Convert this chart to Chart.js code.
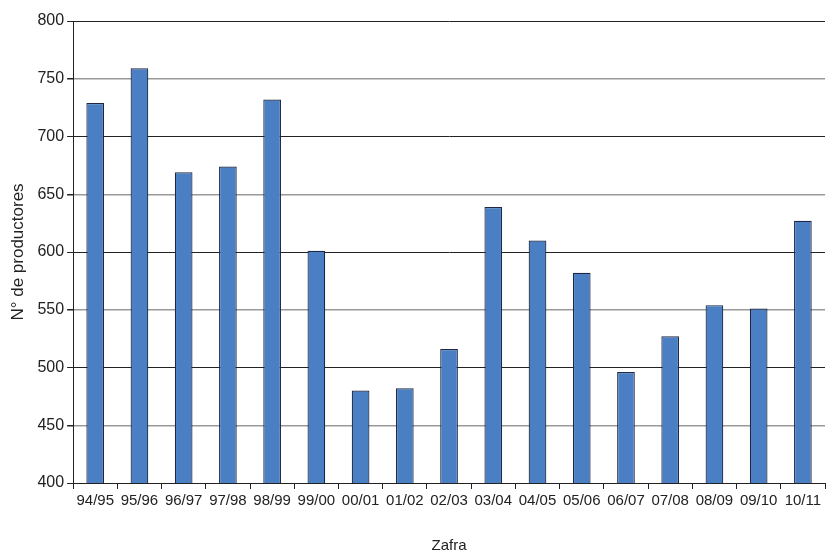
<!DOCTYPE html>
<html>
<head>
<meta charset="utf-8">
<script src="https://cdn.jsdelivr.net/npm/chart.js@4"></script>
<style>
html,body{margin:0;padding:0;background:#fff;}
#wrap{width:829px;height:555px;}
</style>
</head>
<body>
<div id="wrap"><canvas id="c" width="829" height="555"></canvas></div>
<script>
const categories = ["94/95","95/96","96/97","97/98","98/99","99/00","00/01","01/02","02/03","03/04","04/05","05/06","06/07","07/08","08/09","09/10","10/11"];
const productores = [729,759,669,674,732,601,480,482,516,639,610,582,496,527,554,551,627];
const yTicks = [400,450,500,550,600,650,700,750,800];
const yTitle = "N° de productores";
const xTitle = "Zafra";

const barGradient = (ctx) => {
  const el = ctx.element;
  const chart = ctx.chart;
  if (!el || !chart.chartArea || el.x === undefined || isNaN(el.x)) return '#4A7FC4';
  const w = el.width || 18;
  const g = chart.ctx.createLinearGradient(el.x - w/2, 0, el.x + w/2, 0);
  g.addColorStop(0, '#34508C');
  g.addColorStop(0.3, '#4A80C6');
  g.addColorStop(1, '#4E86C9');
  return g;
};

new Chart(document.getElementById('c'), {
  type: 'bar',
  data: {
    labels: categories,
    datasets: [{
      data: productores,
      backgroundColor: barGradient,
      borderColor: '#1E2744',
      borderWidth: 1.2,
      borderSkipped: 'bottom',
      barPercentage: 0.8,
      categoryPercentage: 0.5
    }]
  },
  options: {
    responsive: false,
    animation: false,
    devicePixelRatio: 1,
    layout: { padding: { left: 8, right: 4, top: 21, bottom: 0 } },
    plugins: { legend: { display: false }, tooltip: { enabled: false } },
    scales: {
      x: {
        grid: { drawOnChartArea: false, drawTicks: true, tickLength: 6, color: '#222', offset: true },
        border: { color: '#222', width: 1 },
        ticks: { color: '#222', font: { family: 'Liberation Sans, Arial', size: 15 }, padding: 3, maxRotation: 0, autoSkip: false },
        title: { display: true, text: xTitle, color: '#222', font: { family: 'Liberation Sans, Arial', size: 15 }, padding: { top: 24, bottom: 0 } }
      },
      y: {
        min: 400, max: 800,
        afterBuildTicks: (axis) => { axis.ticks = yTicks.map(v => ({ value: v })); },
        grid: {
          color: (ctx) => (ctx.tick && ctx.tick.value % 100 === 0) ? '#222' : '#999',
          lineWidth: (ctx) => (ctx.tick && ctx.tick.value % 100 === 0) ? 1 : 1.5,
          tickLength: 6,
          tickColor: '#222'
        },
        border: { color: '#222', width: 1 },
        ticks: { color: '#222', font: { family: 'Liberation Sans, Arial', size: 16 }, padding: 3 },
        title: { display: true, text: yTitle, color: '#222', font: { family: 'Liberation Sans, Arial', size: 17 }, padding: { top: 0, bottom: 6 } }
      }
    }
  }
});
</script>
</body>
</html>
